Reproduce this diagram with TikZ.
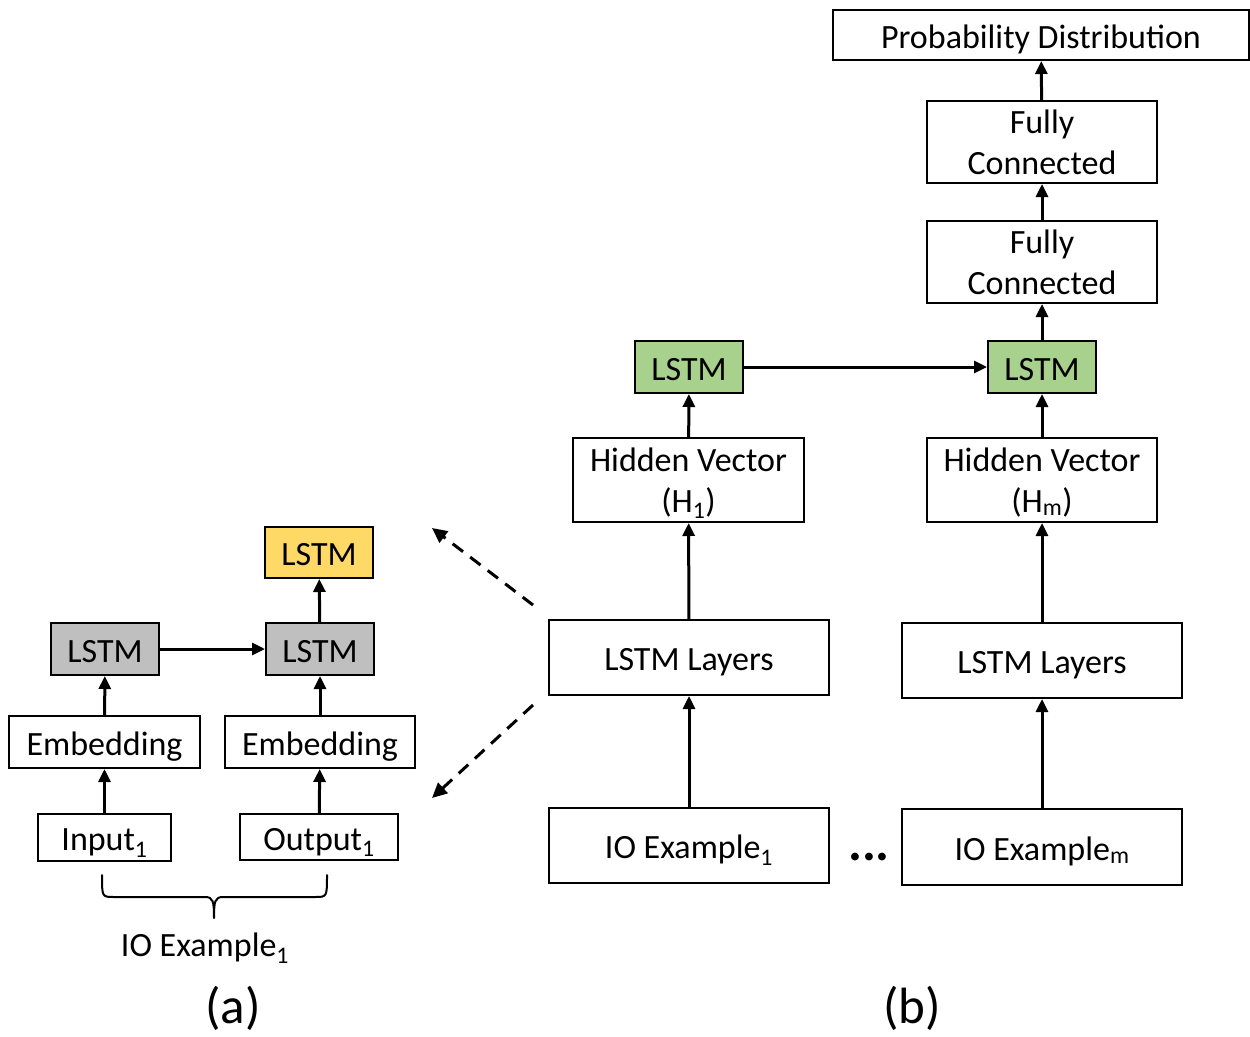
\documentclass[tikz,border=0pt]{standalone}
\usepackage{fontspec}
\setmainfont{Carlito}
\usetikzlibrary{arrows.meta}
\definecolor{lstmyellow}{HTML}{FFD966}
\definecolor{lstmgrey}{HTML}{BFBFBF}
\definecolor{lstmgreen}{HTML}{A9D18E}
\begin{document}
\begin{tikzpicture}[x=1pt,y=-1pt,
  box/.style={draw=black,line width=2pt,rectangle,inner sep=0pt,align=center,
    font=\fontsize{34}{41}\selectfont},
  oneline/.style={text height=28pt,text depth=2pt},
  arr/.style={line width=3pt,-{Triangle[length=13pt,width=12pt]}},
  darr/.style={line width=3pt,dash pattern=on 13pt off 9pt,-{Triangle[length=15pt,width=14pt]}}
]
\useasboundingbox (0,0) rectangle (1250,1036);

% ---- (b) encoder over all IO examples ----
\node[box,oneline,minimum width=416pt,minimum height=50pt] (prob) at (1041,35) {Probability Distribution};
\node[box,minimum width=230pt,minimum height=82pt] (fc1) at (1042,142) {Fully\\Connected};
\node[box,minimum width=230pt,minimum height=82pt] (fc2) at (1042,262) {Fully\\Connected};
\node[box,oneline,fill=lstmgreen,minimum width=108pt,minimum height=52pt] (gl) at (689,367) {LSTM};
\node[box,oneline,fill=lstmgreen,minimum width=108pt,minimum height=52pt] (gr) at (1042,367) {LSTM};
\node[box,text depth=0.5pt,minimum width=231pt,minimum height=84pt] (h1) at (688.5,480) {Hidden Vector\\(H\textsubscript{1})};
\node[box,text depth=0.5pt,minimum width=230pt,minimum height=84pt] (hm) at (1042,480) {Hidden Vector\\(H\textsubscript{m})};
\node[box,oneline,minimum width=280pt,minimum height=75pt] (ll) at (689,657.5) {LSTM Layers};
\node[box,oneline,minimum width=280pt,minimum height=75pt] (lr) at (1042,660.5) {LSTM Layers};
\node[box,oneline,minimum width=280pt,minimum height=75pt] (ex1) at (689,845.5) {IO Example\textsubscript{1}};
\node[box,oneline,minimum width=280pt,minimum height=76pt] (exm) at (1042,847) {IO Example\textsubscript{m}};
\node[font=\fontsize{52}{52}\selectfont\bfseries,inner sep=0pt] (dots) at (869,857) {...};

\draw[arr] (ex1) -- (ll);
\draw[arr] (exm) -- (lr);
\draw[arr] (ll) -- (h1);
\draw[arr] (lr) -- (hm);
\draw[arr] (h1) -- (gl);
\draw[arr] (hm) -- (gr);
\draw[arr] (gl) -- (gr);
\draw[arr] (gr) -- (fc2);
\draw[arr] (fc2) -- (fc1);
\draw[arr] (fc1) -- (prob);

% ---- (a) encoding of a single IO example ----
\node[box,oneline,fill=lstmyellow,minimum width=108pt,minimum height=51pt] (ly) at (319,552.5) {LSTM};
\node[box,oneline,fill=lstmgrey,minimum width=108pt,minimum height=52pt] (la) at (105,649) {LSTM};
\node[box,oneline,fill=lstmgrey,minimum width=108pt,minimum height=52pt] (lb) at (320,649) {LSTM};
\node[box,oneline,minimum width=191pt,minimum height=52pt] (ea) at (104.5,742) {Embedding};
\node[box,oneline,minimum width=190pt,minimum height=52pt] (eb) at (320,742) {Embedding};
\node[box,oneline,minimum width=133pt,minimum height=47pt] (inp) at (104.5,837.5) {Input\textsubscript{1}};
\node[box,oneline,minimum width=158pt,minimum height=46pt] (outp) at (319,837) {Output\textsubscript{1}};

\draw[arr] (inp) -- (ea);
\draw[arr] (outp) -- (eb);
\draw[arr] (ea) -- (la);
\draw[arr] (eb) -- (lb);
\draw[arr] (la) -- (lb);
\draw[arr] (lb) -- (ly);

% curly brace grouping input and output
\coordinate (bl) at (102,875);
\coordinate (br) at (327,875);
\coordinate (btip) at (214,918);
\draw[line width=2pt,line cap=round,line join=round]
  (bl) .. controls (102,897) and (102,897) .. (114,897) -- (205,897)
       .. controls (213,897) and (214,901) .. (btip)
       .. controls (214,901) and (215,897) .. (223,897) -- (315,897)
       .. controls (327,897) and (327,897) .. (br);
\node[font=\fontsize{34}{34}\selectfont] (ioa) at (205,948) {IO Example\textsubscript{1}};

% dashed arrows linking the LSTM layers box to its expansion
\coordinate (d1s) at (533,605);
\coordinate (d1e) at (432,528);
\coordinate (d2s) at (533,705);
\coordinate (d2e) at (432,798);
\draw[darr] (d1s) -- (d1e);
\draw[darr] (d2s) -- (d2e);

% panel captions
\node[font=\fontsize{51}{51}\selectfont] (capa) at (233,1008) {(a)};
\node[font=\fontsize{51}{51}\selectfont] (capb) at (912,1008) {(b)};
\end{tikzpicture}
\end{document}
